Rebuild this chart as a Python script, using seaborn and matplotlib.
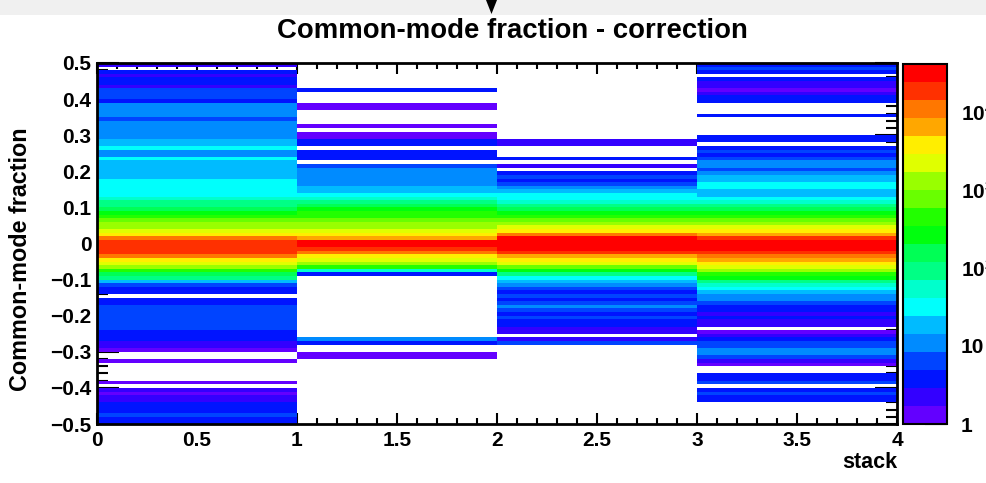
import numpy as np
import pandas as pd
import matplotlib
matplotlib.use("Agg")
import matplotlib.pyplot as plt
import seaborn as sns
import colorsys
from matplotlib.colors import ListedColormap, LogNorm
from matplotlib.patches import Rectangle, Polygon
from matplotlib.ticker import FixedLocator

# ---------------- data ----------------
# counts per Common-mode-fraction bin (width 0.01), listed from the top bin (0.49..0.50)
# down to the bottom bin (-0.50..-0.49), one list per stack bin
stack_0 = [2, 0, 4, 2, 4, 4, 2, 6, 6, 6,
           4, 11, 11, 11, 11, 6, 11, 11, 11, 11,
           11, 19, 19, 32, 11, 11, 32, 19, 19, 19,
           19, 19, 32, 32, 32, 32, 32, 55, 95, 95,
           160, 270, 450, 760, 1300, 1300, 2200, 3700, 10700, 18000,
           18000, 18000, 18000, 10700, 3700, 2200, 1300, 450, 160, 95,
           19, 6, 4, 4, 0, 4, 4, 6, 6, 6,
           6, 6, 6, 6, 4, 4, 4, 2, 2, 1,
           0, 0, 1, 0, 0, 0, 0, 0, 1, 0,
           2, 1, 2, 2, 4, 3, 4, 6, 4, 4]
stack_1 = [0, 0, 0, 0, 0, 0, 0, 3, 0, 0,
           0, 1, 1, 0, 0, 0, 0, 1, 0, 1,
           1, 3, 3, 0, 4, 3, 4, 0, 6, 11,
           11, 11, 11, 11, 19, 19, 32, 55, 95, 160,
           270, 450, 450, 760, 1300, 1300, 2200, 3700, 6300, 31000,
           31000, 18000, 10700, 3700, 2200, 1300, 450, 55, 4, 0,
           0, 0, 0, 0, 0, 0, 0, 0, 0, 0,
           0, 0, 0, 0, 0, 0, 11, 4, 0, 0,
           1, 1, 0, 0, 0, 0, 0, 0, 0, 0,
           0, 0, 0, 0, 0, 0, 0, 0, 0, 0]
stack_2 = [0, 0, 0, 0, 0, 0, 0, 0, 0, 0,
           0, 0, 0, 0, 0, 0, 0, 0, 0, 0,
           0, 2, 2, 0, 0, 0, 4, 0, 2, 0,
           4, 6, 4, 6, 11, 19, 32, 32, 55, 95,
           160, 270, 450, 760, 1300, 2200, 3700, 10700, 31000, 31000,
           31000, 31000, 18000, 6300, 3700, 2200, 760, 270, 95, 32,
           19, 11, 6, 4, 6, 4, 6, 11, 6, 4,
           6, 4, 4, 2, 2, 0, 2, 6, 0, 0,
           0, 0, 0, 0, 0, 0, 0, 0, 0, 0,
           0, 0, 0, 0, 0, 0, 0, 0, 0, 0]
stack_3 = [4, 6, 4, 0, 4, 2, 2, 1, 2, 4,
           4, 0, 0, 0, 4, 0, 0, 0, 0, 0,
           4, 4, 0, 4, 6, 4, 6, 11, 11, 6,
           11, 19, 19, 32, 32, 19, 19, 32, 55, 95,
           160, 270, 450, 760, 1300, 2200, 3700, 6300, 18000, 31000,
           31000, 31000, 18000, 10700, 6300, 3700, 2200, 1300, 450, 270,
           95, 55, 32, 19, 11, 11, 6, 4, 4, 2,
           4, 2, 2, 0, 1, 2, 4, 6, 6, 11,
           11, 6, 2, 1, 0, 0, 4, 4, 6, 0,
           4, 6, 4, 4, 0, 0, 0, 0, 0, 0]

stack_edges = [0, 1, 2, 3, 4]
x_tick_values = [0, 0.5, 1, 1.5, 2, 2.5, 3, 3.5, 4]
x_tick_labels = ["0", "0.5", "1", "1.5", "2", "2.5", "3", "3.5", "4"]
y_tick_values = [0.5, 0.4, 0.3, 0.2, 0.1, 0.0, -0.1, -0.2, -0.3, -0.4, -0.5]
y_tick_labels = ["0.5", "0.4", "0.3", "0.2", "0.1", "0",
                 "\u22120.1", "\u22120.2", "\u22120.3", "\u22120.4", "\u22120.5"]
y_top, y_bin_width = 0.5, 0.01
z_min, z_max = 1.0, 41200.0
cbar_tick_values = [1, 10, 100, 1000, 10000]
cbar_tick_labels = ["1", "10", r"$10^{2}$", r"$10^{3}$", r"$10^{4}$"]

title = "Common-mode fraction - correction"
y_label = "Common-mode fraction"
x_label = "stack"

# ---------------- style ----------------
sns.set_style("ticks")
plt.rcParams["font.family"] = ["Liberation Sans", "DejaVu Sans"]
plt.rcParams["font.weight"] = "bold"
plt.rcParams["mathtext.fontset"] = "custom"
plt.rcParams["mathtext.rm"] = "Liberation Sans:bold"
plt.rcParams["mathtext.default"] = "rm"
for key in ["text.color", "axes.labelcolor", "xtick.color", "ytick.color", "axes.edgecolor"]:
    plt.rcParams[key] = "black"

# ROOT "pretty" rainbow palette, 20 contour levels
n_levels = 20
palette = []
for j in range(n_levels):
    idx = int((j + 0.99) * 50 / n_levels)
    hue = 280 - (idx + 1) * 280 / 50
    palette.append(colorsys.hls_to_rgb(hue / 360.0, 0.5, 1.0))
cmap = ListedColormap(palette)
norm = LogNorm(vmin=z_min, vmax=z_max)

df = pd.DataFrame({stack_edges[0]: stack_0, stack_edges[1]: stack_1,
                   stack_edges[2]: stack_2, stack_edges[3]: stack_3})

W, H = 987, 483
fig = plt.figure(figsize=(W / 100, H / 100), dpi=100)
fig.patch.set_facecolor("white")

ax = fig.add_axes([97 / W, 1 - 424 / H, 800 / W, 361 / H])
cax = fig.add_axes([903 / W, 1 - 424 / H, 44 / W, 360 / H])

sns.heatmap(df, ax=ax, cmap=cmap, norm=norm, mask=(df == 0), cbar=True,
            cbar_ax=cax, xticklabels=False, yticklabels=False)

def y_pos(v):
    return (y_top - v) / y_bin_width

ax.set_xlim(0, 4)
ax.set_ylim(y_pos(-0.5), y_pos(0.5))
ax.set_facecolor("white")
for s in ax.spines.values():
    s.set_visible(True)
    s.set_linewidth(2)
    s.set_color("black")

ax.set_xticks(x_tick_values)
ax.set_xticklabels(x_tick_labels, fontsize=15, fontweight="bold", rotation=0, color="black")
ax.xaxis.set_minor_locator(FixedLocator(np.round(np.arange(0, 4.001, 0.1), 3)))
ax.set_yticks([y_pos(v) for v in y_tick_values])
ax.set_yticklabels(y_tick_labels, fontsize=15, fontweight="bold", rotation=0, color="black")
ax.yaxis.set_minor_locator(FixedLocator([y_pos(v) for v in np.arange(-0.5, 0.5001, 0.02)]))
ax.set_xlabel("")
ax.set_ylabel("")

ax.tick_params(axis="x", which="major", direction="in", length=8, width=1.5,
               top=True, bottom=True, pad=5, colors="black")
ax.tick_params(axis="x", which="minor", direction="in", length=4, width=1.5,
               top=True, bottom=True, colors="black")
ax.tick_params(axis="y", which="major", direction="in", length=16, width=1.5,
               left=True, right=True, pad=4, colors="black")
ax.tick_params(axis="y", which="minor", direction="in", length=8, width=1.5,
               left=True, right=True, colors="black")

# colorbar
cbar = ax.collections[0].colorbar
cbar.outline.set_visible(True)
cbar.outline.set_linewidth(1.5)
cbar.outline.set_edgecolor("black")
cbar.set_ticks(cbar_tick_values)
cbar.set_ticklabels(cbar_tick_labels)
minor_vals = [m * d for d in [1, 10, 100, 1000, 10000] for m in range(2, 10) if m * d < z_max]
cax.yaxis.set_minor_locator(FixedLocator(minor_vals))
cax.tick_params(axis="y", which="major", direction="in", length=16, width=1.5,
                right=True, left=False, labelsize=15, pad=10, colors="black")
cax.tick_params(axis="y", which="minor", direction="in", length=8, width=1.5,
                right=True, left=False, colors="black")
for lab in cax.get_yticklabels():
    lab.set_fontweight("bold")
    lab.set_color("black")

# texts
fig.text(512 / W, 1 - 31 / H, title, ha="center", va="center",
         fontsize=19.8, fontweight="bold", color="black")
fig.text(21 / W, 1 - 259 / H, y_label, ha="center", va="center", rotation=90,
         fontsize=16.8, fontweight="bold", color="black")
fig.text(897 / W, 1 - 463 / H, x_label, ha="right", va="center",
         fontsize=15.5, fontweight="bold", color="black")

# top grey strip with marker from the original screenshot
fig.patches.append(Rectangle((0, 1 - 15 / H), 1, 15 / H, transform=fig.transFigure,
                             facecolor="#f0f0f0", edgecolor="none", zorder=-1))
fig.patches.append(Polygon([(486 / W, 1.0), (497 / W, 1.0), (491.5 / W, 1 - 14 / H)],
                           closed=True, transform=fig.transFigure,
                           facecolor="black", edgecolor="none"))

fig.savefig("out.png", dpi=100, facecolor="white")
